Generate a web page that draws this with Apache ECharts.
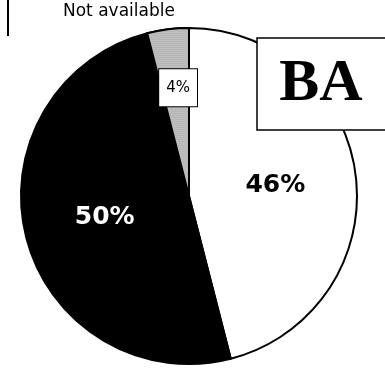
<!DOCTYPE html>
<html lang="en">
<head>
    <meta charset="utf-8">
    <script src="https://cdn.jsdelivr.net/npm/echarts@6/dist/echarts.min.js"></script>
    <style>
        html, body { margin: 0; padding: 0; background: #fff; }
        #chart { width: 385px; height: 378px; }
    </style>
</head>
<body>
<div id="chart"></div>
<script>
    // slices, clockwise from 12 o'clock
    var categories = ['Available', 'Other', 'Not available'];
    var shares = [46, 50, 4];
    var sliceColors = ['#ffffff', '#000000', '#b4b4b4'];
    var legendText = 'Not available';
    var boxText = 'BA';

    var myChart = echarts.init(document.getElementById('chart'));

    var pieData = categories.map(function (name, i) {
        var item = {
            name: name,
            value: shares[i],
            itemStyle: { color: sliceColors[i] }
        };
        if (i === 0) {
            item.label = { color: '#000' };
        } else if (i === 1) {
            item.label = { color: '#fff' };
        } else {
            // dotted slice with a small boxed label
            item.itemStyle.decal = {
                symbol: 'circle',
                symbolSize: 0.6,
                color: 'rgba(0,0,0,0.45)',
                dashArrayX: [2, 0],
                dashArrayY: [2, 0],
                backgroundColor: '#d0d0d0'
            };
            item.label = {
                color: '#000',
                fontWeight: 'normal',
                fontSize: 15,
                backgroundColor: '#fff',
                borderColor: '#000',
                borderWidth: 1,
                padding: [11, 7, 11, 7],
                offset: [0, -22]
            };
        }
        return item;
    });

    var option = {
        animation: false,
        backgroundColor: '#fff',
        series: [{
            type: 'pie',
            center: [189, 196],
            radius: 168,
            startAngle: 90,
            clockwise: true,
            silent: true,
            avoidLabelOverlap: false,
            itemStyle: {
                borderColor: '#000',
                borderWidth: 2
            },
            label: {
                show: true,
                position: 'inside',
                formatter: '{c}%',
                fontFamily: 'DejaVu Sans',
                fontWeight: 'bold',
                fontSize: 25
            },
            labelLine: { show: false },
            data: pieData
        }],
        graphic: [
            {
                type: 'line',
                shape: { x1: 8, y1: 0, x2: 8, y2: 36 },
                style: { stroke: '#000', lineWidth: 2 }
            },
            {
                type: 'text',
                left: 63,
                top: 3,
                style: {
                    text: legendText,
                    font: '17px "DejaVu Sans"',
                    fill: '#000'
                }
            },
            {
                type: 'rect',
                z: 100,
                shape: { x: 257, y: 38, width: 140, height: 92 },
                style: { fill: '#fff', stroke: '#000', lineWidth: 1.5 }
            },
            {
                type: 'text',
                z: 101,
                x: 321,
                y: 84,
                style: {
                    text: boxText,
                    font: 'bold 60px "Liberation Serif"',
                    fill: '#000',
                    align: 'center',
                    verticalAlign: 'middle'
                }
            }
        ]
    };
    myChart.setOption(option);
</script>
</body>
</html>
